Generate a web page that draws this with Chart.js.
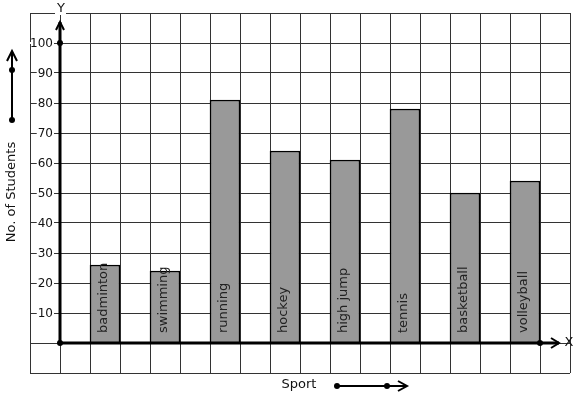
<!DOCTYPE html>
<html>
<head>
<meta charset="utf-8">
<script src="https://cdn.jsdelivr.net/npm/chart.js@4"></script>
<style>
  html, body { margin: 0; padding: 0; background: #fff; }
  #wrap { width: 577px; height: 399px; }
</style>
</head>
<body>
<div id="wrap"><canvas id="sportChart" width="577" height="399"></canvas></div>
<script>
const sports   = ['badminton', 'swimming', 'running', 'hockey', 'high jump', 'tennis', 'basketball', 'volleyball'];
const students = [26, 24, 81, 64, 61, 78, 50, 54];
const yTicks   = [10, 20, 30, 40, 50, 60, 70, 80, 90, 100];

const FONT = '"DejaVu Sans", sans-serif';

// 18 grid columns, bars sit on every other column starting at the third
const cells  = Array.from({ length: 18 }, (_, i) => String(i - 1));
const values = cells.map(() => null);
const names  = cells.map(() => '');
sports.forEach((s, i) => { values[2 + 2 * i] = students[i]; names[2 + 2 * i] = s; });

/* ── drawn extras: axes with arrows, tick labels, titles, bar text ── */
const extras = {
  id: 'extras',
  afterDatasetsDraw(chart) {
    const { ctx, scales: { x, y } } = chart;
    const ox = (x.getPixelForValue(0) + x.getPixelForValue(1)) / 2;
    const oy = y.getPixelForValue(0);
    ctx.save();

    // text inside bars
    ctx.font = '13px ' + FONT;
    ctx.fillStyle = '#222';
    ctx.textAlign = 'left';
    ctx.textBaseline = 'middle';
    chart.getDatasetMeta(0).data.forEach((bar, i) => {
      if (!names[i]) return;
      ctx.save();
      ctx.translate(bar.x - 1, oy - 10);
      ctx.rotate(-Math.PI / 2);
      ctx.fillText(names[i], 0, 0);
      ctx.restore();
    });

    // y tick labels with white backing
    ctx.font = '12px ' + FONT;
    ctx.textAlign = 'right';
    yTicks.forEach(v => {
      const py = y.getPixelForValue(v);
      const txt = String(v);
      const w = ctx.measureText(txt).width;
      ctx.fillStyle = '#fff';
      ctx.fillRect(ox - 7 - w - 1, py - 1, w + 2, 2);
      ctx.fillStyle = '#111';
      ctx.fillText(txt, ox - 7, py + 1);
    });

    ctx.strokeStyle = '#000';
    ctx.fillStyle = '#000';
    ctx.lineCap = 'butt';

    // y axis
    const yTop = y.getPixelForValue(107);
    ctx.lineWidth = 3;
    ctx.beginPath(); ctx.moveTo(ox, oy); ctx.lineTo(ox, yTop); ctx.stroke();
    ctx.lineWidth = 2;
    ctx.beginPath(); ctx.moveTo(ox - 4, yTop + 8); ctx.lineTo(ox, yTop); ctx.lineTo(ox + 4, yTop + 8); ctx.stroke();

    // x axis
    const xEnd = x.getPixelForValue(17) + 4;
    ctx.lineWidth = 3;
    ctx.beginPath(); ctx.moveTo(ox, oy); ctx.lineTo(xEnd, oy); ctx.stroke();
    ctx.lineWidth = 2;
    ctx.beginPath(); ctx.moveTo(xEnd - 8, oy - 5); ctx.lineTo(xEnd, oy); ctx.lineTo(xEnd - 8, oy + 5); ctx.stroke();

    // dots
    const dot = (px, py) => { ctx.beginPath(); ctx.arc(px, py, 3, 0, Math.PI * 2); ctx.fill(); };
    dot(ox, oy);
    dot(ox, y.getPixelForValue(100));
    dot((x.getPixelForValue(16) + x.getPixelForValue(17)) / 2, oy);

    // axis letters
    ctx.font = '13px ' + FONT;
    ctx.textAlign = 'center';
    ctx.textBaseline = 'middle';
    ctx.fillStyle = '#fff';
    ctx.fillRect(ox - 5, chart.chartArea.top - 2, 11, 4);
    ctx.fillStyle = '#111';
    ctx.fillText('Y', ox + 1, chart.chartArea.top - 4);
    ctx.fillText('X', xEnd + 10, oy);

    // left: No. of Students with arrow
    ctx.save();
    ctx.translate(12, 192);
    ctx.rotate(-Math.PI / 2);
    ctx.fillText('No. of Students', 0, 0);
    ctx.restore();
    ctx.fillStyle = '#000';
    ctx.lineWidth = 2;
    ctx.beginPath(); ctx.moveTo(12, 120); ctx.lineTo(12, 51); ctx.stroke();
    ctx.beginPath(); ctx.moveTo(7, 61); ctx.lineTo(12, 51); ctx.lineTo(17, 61); ctx.stroke();
    dot(12, 70); dot(12, 120);

    // bottom: Sport with arrow
    ctx.fillStyle = '#111';
    ctx.fillText('Sport', 299, 385);
    ctx.fillStyle = '#000';
    ctx.beginPath(); ctx.moveTo(337, 386); ctx.lineTo(406, 386); ctx.stroke();
    ctx.beginPath(); ctx.moveTo(398, 381); ctx.lineTo(407, 386); ctx.lineTo(398, 391); ctx.stroke();
    dot(337, 386); dot(387, 386);

    ctx.restore();
  }
};

new Chart(document.getElementById('sportChart'), {
  type: 'bar',
  data: {
    labels: cells,
    datasets: [{
      data: values,
      backgroundColor: '#999999',
      borderColor: '#000',
      borderWidth: 1.5,
      barPercentage: 1,
      categoryPercentage: 1,
    }]
  },
  options: {
    responsive: false,
    animation: false,
    layout: { padding: { left: 30, right: 7, top: 13, bottom: 26 } },
    plugins: {
      legend: { display: false },
      tooltip: { enabled: false }
    },
    scales: {
      x: {
        offset: true,
        grid: { color: '#333', lineWidth: 1, drawTicks: false, offset: true },
        border: { display: false },
        ticks: { display: false }
      },
      y: {
        min: -10,
        max: 110,
        grid: { color: '#333', lineWidth: 1, drawTicks: false },
        border: { display: false },
        ticks: { display: false, stepSize: 10 }
      }
    }
  },
  plugins: [extras]
});
</script>
</body>
</html>
